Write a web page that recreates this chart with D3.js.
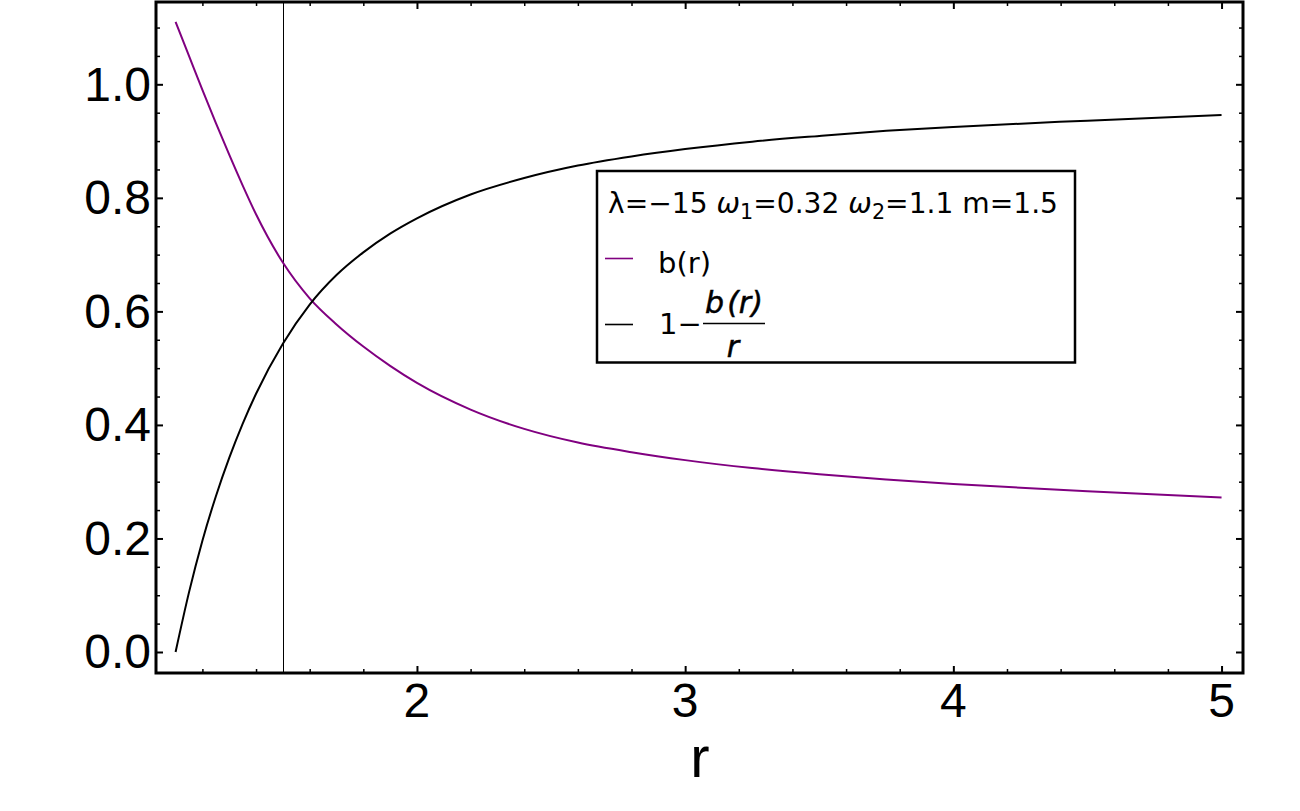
<!DOCTYPE html>
<html>
<head>
<meta charset="utf-8">
<script src="https://cdn.jsdelivr.net/npm/d3@7"></script>
<style>
  html, body { margin: 0; padding: 0; background: #fff; }
  svg { display: block; }
</style>
</head>
<body>
<svg id="chart" width="1300" height="811"></svg>
<script>
// ---- data ----
const rValues = [1.10, 1.15, 1.20, 1.25, 1.30, 1.35, 1.40, 1.50, 1.60, 1.70, 1.80, 1.90, 2.00,
                 2.20, 2.40, 2.60, 2.80, 3.00, 3.25, 3.50, 3.75, 4.00, 4.50, 5.00];
const bValues = [1.110, 1.050, 0.990, 0.932, 0.876, 0.822, 0.771, 0.686, 0.623, 0.577, 0.538, 0.504, 0.474,
                 0.427, 0.393, 0.369, 0.352, 0.338, 0.324, 0.313, 0.304, 0.296, 0.283, 0.272];
const oneMinusBoverR = [0.000, 0.105, 0.196, 0.274, 0.342, 0.402, 0.455, 0.543, 0.612, 0.664, 0.704, 0.737, 0.764,
                 0.806, 0.835, 0.857, 0.873, 0.886, 0.899, 0.909, 0.918, 0.925, 0.936, 0.946];
const throatLine = 1.5;
const xMajorTicks = [2, 3, 4, 5];
const yMajorTicks = [0.0, 0.2, 0.4, 0.6, 0.8, 1.0];
const xLabel = "r";
const legendTitle = ["λ=−15 ", "ω", "1", "=0.32 ", "ω", "2", "=1.1 m=1.5"];
const seriesNames = ["b(r)", "1−b(r)/r"];
const seriesColors = ["#800080", "#000000"];

// ---- layout ----
const pL = 156, pR = 1243, pT = 2, pB = 673;
const svg = d3.select("#chart");

const x = d3.scaleLinear().domain([1.027, 5.080]).range([pL, pR]);
const y = d3.scaleLinear().domain([-0.037, 1.145]).range([pB, pT]);

const xMinor = d3.range(1.2, 5.05, 0.2).filter(v => !xMajorTicks.some(t => Math.abs(t - v) < 1e-6));
const yMinor = d3.range(0.0, 1.149, 0.05).filter(v => !yMajorTicks.some(t => Math.abs(t - v) < 1e-6));

// clip for curves
svg.append("defs").append("clipPath").attr("id", "clip")
  .append("rect").attr("x", pL).attr("y", pT).attr("width", pR - pL).attr("height", pB - pT);

// vertical line at throat
svg.append("line")
  .attr("x1", Math.round(x(throatLine)) + 0.5).attr("x2", Math.round(x(throatLine)) + 0.5)
  .attr("y1", pT).attr("y2", pB)
  .attr("stroke", "#000").attr("stroke-width", 1);

// curves
const line = (vals) => d3.line()
  .x((d, i) => x(rValues[i]))
  .y((d) => y(d))
  .curve(d3.curveMonotoneX)(vals);

const g = svg.append("g").attr("clip-path", "url(#clip)");
g.append("path").attr("d", line(bValues))
  .attr("fill", "none").attr("stroke", seriesColors[0]).attr("stroke-width", 2);
g.append("path").attr("d", line(oneMinusBoverR))
  .attr("fill", "none").attr("stroke", seriesColors[1]).attr("stroke-width", 2);

// axes via d3 axis generators (ticks inside)
const tickStyle = sel => {
  sel.select(".domain").remove();
  sel.selectAll("line").attr("stroke", "#000");
  sel.selectAll("text").remove();
};
function ticks(gen, tr, vals, size, w) {
  svg.append("g").attr("transform", tr)
    .call(gen.tickValues(vals).tickSize(size)).call(tickStyle)
    .selectAll("line").attr("stroke-width", w);
}
ticks(d3.axisTop(x), `translate(0,${pB})`, xMajorTicks, 7, 2);
ticks(d3.axisTop(x), `translate(0,${pB})`, xMinor, 4, 1.5);
ticks(d3.axisBottom(x), `translate(0,${pT})`, xMajorTicks, 7, 2);
ticks(d3.axisBottom(x), `translate(0,${pT})`, xMinor, 4, 1.5);
ticks(d3.axisRight(y), `translate(${pL},0)`, yMajorTicks, 7, 2);
ticks(d3.axisRight(y), `translate(${pL},0)`, yMinor, 4, 1.5);
ticks(d3.axisLeft(y), `translate(${pR},0)`, yMajorTicks, 7, 2);
ticks(d3.axisLeft(y), `translate(${pR},0)`, yMinor, 4, 1.5);

// frame
svg.append("rect")
  .attr("x", pL).attr("y", pT).attr("width", pR - pL).attr("height", pB - pT)
  .attr("fill", "none").attr("stroke", "#000").attr("stroke-width", 3);

// tick labels
const labelFont = "'Liberation Sans', Arial, Helvetica, sans-serif";
svg.append("g").selectAll("text").data(yMajorTicks).join("text")
  .attr("x", 151).attr("y", d => y(d) + 16.5)
  .attr("text-anchor", "end")
  .attr("font-family", labelFont).attr("font-size", 48)
  .text(d => d.toFixed(1));
svg.append("g").selectAll("text").data(xMajorTicks).join("text")
  .attr("x", d => x(d)).attr("y", 717)
  .attr("text-anchor", "middle")
  .attr("font-family", labelFont).attr("font-size", 48)
  .text(d => d);
svg.append("text")
  .attr("x", 700).attr("y", 777)
  .attr("text-anchor", "middle")
  .attr("font-family", labelFont).attr("font-size", 58)
  .text(xLabel);

// legend
const legFont = "'DejaVu Sans', 'Noto Sans', sans-serif";
svg.append("rect")
  .attr("x", 597).attr("y", 171).attr("width", 478).attr("height", 191.5)
  .attr("fill", "#fff").attr("stroke", "#000").attr("stroke-width", 2.5);

const title = svg.append("text")
  .attr("x", 608).attr("y", 213)
  .attr("font-family", legFont).attr("font-size", 28.5);
legendTitle.forEach((s, i) => {
  const t = title.append("tspan").text(s);
  if (s === "ω") t.attr("font-style", "italic");
  if (s === "1" || s === "2") t.attr("font-size", 21).attr("dy", 6);
  else if (i > 0 && (legendTitle[i - 1] === "1" || legendTitle[i - 1] === "2")) t.attr("dy", -6);
});
// fit title to the reference width
const tw = title.node().getComputedTextLength();
if (tw > 0) title.attr("textLength", 450).attr("lengthAdjust", "spacingAndGlyphs");

// legend row 1
svg.append("line").attr("x1", 605).attr("x2", 633).attr("y1", 258.5).attr("y2", 258.5)
  .attr("stroke", seriesColors[0]).attr("stroke-width", 1.6);
svg.append("text").attr("x", 658).attr("y", 273)
  .attr("font-family", legFont).attr("font-size", 29).text(seriesNames[0]);

// legend row 2: 1 − b(r)/r
svg.append("line").attr("x1", 605).attr("x2", 633).attr("y1", 324.5).attr("y2", 324.5)
  .attr("stroke", seriesColors[1]).attr("stroke-width", 1.6);
svg.append("text").attr("x", 659).attr("y", 334)
  .attr("font-family", legFont).attr("font-size", 29).text("1−");
const num = svg.append("text").attr("x", 734).attr("y", 313).attr("text-anchor", "middle")
  .attr("font-family", legFont).attr("font-size", 30).attr("font-style", "italic")
  .attr("stroke", "#000").attr("stroke-width", 0.5);
num.append("tspan").text("b");
num.append("tspan").attr("dx", 3).text("(");
num.append("tspan").text("r");
num.append("tspan").text(")");
svg.append("line").attr("x1", 703).attr("x2", 765).attr("y1", 323.5).attr("y2", 323.5)
  .attr("stroke", "#000").attr("stroke-width", 1.5);
svg.append("text").attr("x", 733).attr("y", 357).attr("text-anchor", "middle")
  .attr("font-family", legFont).attr("font-size", 30).attr("font-style", "italic")
  .attr("stroke", "#000").attr("stroke-width", 0.5).text("r");
</script>
</body>
</html>
